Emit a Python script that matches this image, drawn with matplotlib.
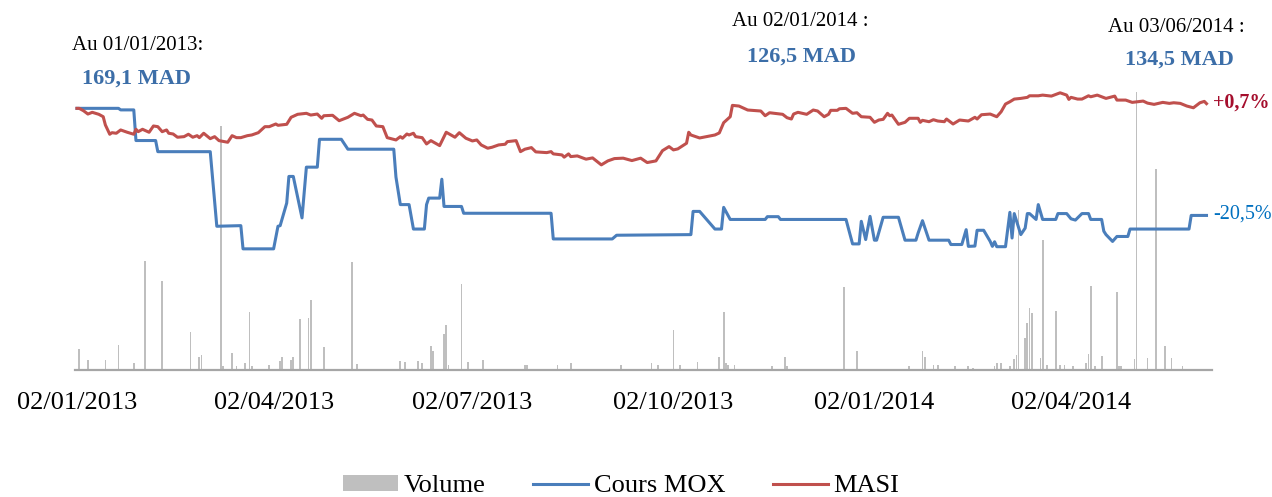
import matplotlib
matplotlib.use("Agg")
import matplotlib.pyplot as plt
import matplotlib.dates as mdates
import pandas as pd

plt.rcParams["font.family"] = ["Liberation Serif", "DejaVu Serif"]

# Cours MOX (MAD)
mox_dates = ["2013-01-02", "2013-01-21", "2013-01-22", "2013-01-28", "2013-01-29", "2013-02-07",
             "2013-02-08", "2013-03-04", "2013-03-07", "2013-03-18", "2013-03-19", "2013-04-02",
             "2013-04-04", "2013-04-05", "2013-04-08", "2013-04-09", "2013-04-11", "2013-04-15",
             "2013-04-17", "2013-04-22", "2013-04-23", "2013-05-03", "2013-05-06", "2013-05-27",
             "2013-05-28", "2013-05-30", "2013-06-03", "2013-06-05", "2013-06-10", "2013-06-11",
             "2013-06-12", "2013-06-17", "2013-06-18", "2013-06-19", "2013-06-27", "2013-06-28",
             "2013-08-07", "2013-08-08", "2013-09-04", "2013-09-06", "2013-10-10", "2013-10-11",
             "2013-10-14", "2013-10-21", "2013-10-24", "2013-10-25", "2013-10-28", "2013-11-13",
             "2013-11-14", "2013-11-19", "2013-11-20", "2013-12-20", "2013-12-23", "2013-12-26",
             "2013-12-27", "2013-12-29", "2013-12-31", "2014-01-02", "2014-01-03", "2014-01-06",
             "2014-01-13", "2014-01-16", "2014-01-21", "2014-01-22", "2014-01-24", "2014-01-27",
             "2014-02-05", "2014-02-06", "2014-02-11", "2014-02-13", "2014-02-14", "2014-02-17",
             "2014-02-18", "2014-02-21", "2014-02-24", "2014-02-25", "2014-02-26", "2014-02-27",
             "2014-03-03", "2014-03-05", "2014-03-06", "2014-03-07", "2014-03-10", "2014-03-12",
             "2014-03-13", "2014-03-14", "2014-03-17", "2014-03-18", "2014-03-20", "2014-03-26",
             "2014-03-27", "2014-03-31", "2014-04-02", "2014-04-04", "2014-04-07", "2014-04-10",
             "2014-04-11", "2014-04-16", "2014-04-17", "2014-04-18", "2014-04-21", "2014-04-23",
             "2014-04-28", "2014-04-29", "2014-05-26", "2014-05-27", "2014-06-03"]
mox_prices = [169.1, 169.1, 168.6, 168.6, 158.7, 158.7,
              155.1, 155.1, 131.0, 131.2, 123.7, 123.7,
              131.0, 131.2, 138.5, 147.1, 147.1, 133.7,
              150.1, 150.1, 159.1, 159.1, 155.9, 155.9,
              146.9, 138.0, 138.0, 130.1, 130.1, 138.0,
              140.1, 140.1, 146.2, 137.4, 137.4, 135.2,
              135.2, 126.9, 126.9, 128.1, 128.3, 135.8,
              135.8, 130.1, 130.1, 137.1, 133.2, 133.2,
              134.1, 134.1, 133.2, 133.2, 125.3, 125.3,
              132.6, 126.7, 134.2, 126.5, 126.5, 133.9,
              133.9, 126.5, 126.5, 128.8, 132.8, 126.5,
              126.5, 125.1, 125.1, 129.9, 124.5, 124.6,
              129.7, 129.7, 126.1, 124.5, 126.0, 124.4,
              124.4, 135.5, 127.2, 135.1, 128.3, 130.4,
              135.1, 135.1, 133.2, 138.0, 133.2, 133.2,
              135.1, 135.1, 133.4, 133.0, 135.1, 135.1,
              133.2, 133.2, 129.4, 128.3, 126.1, 127.7,
              127.7, 130.1, 130.1, 134.5, 134.5]

# MASI (base 100 au 02/01/2013)
masi_dates = ["2013-01-02", "2013-01-03", "2013-01-05", "2013-01-07", "2013-01-09", "2013-01-12",
              "2013-01-14", "2013-01-15", "2013-01-17", "2013-01-18", "2013-01-20", "2013-01-22",
              "2013-01-25", "2013-01-28", "2013-01-29", "2013-01-30", "2013-02-01", "2013-02-04",
              "2013-02-06", "2013-02-08", "2013-02-10", "2013-02-12", "2013-02-13", "2013-02-15",
              "2013-02-17", "2013-02-20", "2013-02-22", "2013-02-24", "2013-02-26", "2013-02-27",
              "2013-03-01", "2013-03-04", "2013-03-06", "2013-03-08", "2013-03-12", "2013-03-14",
              "2013-03-16", "2013-03-18", "2013-03-21", "2013-03-23", "2013-03-26", "2013-03-29",
              "2013-03-31", "2013-04-03", "2013-04-04", "2013-04-08", "2013-04-10", "2013-04-13",
              "2013-04-17", "2013-04-19", "2013-04-22", "2013-04-24", "2013-04-25", "2013-04-29",
              "2013-05-02", "2013-05-06", "2013-05-09", "2013-05-12", "2013-05-13", "2013-05-15",
              "2013-05-17", "2013-05-19", "2013-05-22", "2013-05-24", "2013-05-28", "2013-05-30",
              "2013-05-31", "2013-06-02", "2013-06-03", "2013-06-05", "2013-06-06", "2013-06-09",
              "2013-06-11", "2013-06-13", "2013-06-17", "2013-06-20", "2013-06-24", "2013-06-26",
              "2013-06-29", "2013-07-02", "2013-07-04", "2013-07-06", "2013-07-09", "2013-07-11",
              "2013-07-14", "2013-07-17", "2013-07-18", "2013-07-22", "2013-07-24", "2013-07-26",
              "2013-07-29", "2013-07-31", "2013-08-05", "2013-08-07", "2013-08-08", "2013-08-12",
              "2013-08-13", "2013-08-15", "2013-08-16", "2013-08-19", "2013-08-23", "2013-08-26",
              "2013-08-30", "2013-09-02", "2013-09-05", "2013-09-09", "2013-09-13", "2013-09-17",
              "2013-09-20", "2013-09-24", "2013-09-27", "2013-09-30", "2013-10-02", "2013-10-04",
              "2013-10-08", "2013-10-09", "2013-10-10", "2013-10-14", "2013-10-21", "2013-10-23",
              "2013-10-25", "2013-10-28", "2013-10-29", "2013-11-01", "2013-11-05", "2013-11-11",
              "2013-11-13", "2013-11-15", "2013-11-21", "2013-11-23", "2013-11-25", "2013-11-26",
              "2013-11-28", "2013-12-02", "2013-12-05", "2013-12-07", "2013-12-10", "2013-12-12",
              "2013-12-13", "2013-12-16", "2013-12-17", "2013-12-20", "2013-12-23", "2013-12-25",
              "2013-12-27", "2013-12-31", "2014-01-02", "2014-01-04", "2014-01-06", "2014-01-08",
              "2014-01-09", "2014-01-10", "2014-01-13", "2014-01-16", "2014-01-18", "2014-01-22",
              "2014-01-23", "2014-01-24", "2014-01-27", "2014-01-29", "2014-01-31", "2014-02-03",
              "2014-02-04", "2014-02-07", "2014-02-10", "2014-02-14", "2014-02-17", "2014-02-18",
              "2014-02-20", "2014-02-24", "2014-02-27", "2014-03-01", "2014-03-03", "2014-03-05",
              "2014-03-07", "2014-03-10", "2014-03-13", "2014-03-14", "2014-03-18", "2014-03-20",
              "2014-03-24", "2014-03-28", "2014-03-31", "2014-04-01", "2014-04-02", "2014-04-05",
              "2014-04-07", "2014-04-10", "2014-04-11", "2014-04-14", "2014-04-18", "2014-04-22",
              "2014-04-23", "2014-04-27", "2014-04-30", "2014-05-05", "2014-05-07", "2014-05-10",
              "2014-05-14", "2014-05-17", "2014-05-19", "2014-05-22", "2014-05-25", "2014-05-28",
              "2014-05-31", "2014-06-02", "2014-06-03"]
masi_values = [100.0, 100.0, 99.54, 98.91, 99.24, 98.86,
               98.40, 96.82, 95.05, 95.35, 95.24, 95.87,
               95.43, 95.05, 96.00, 95.54, 96.00, 95.43,
               96.63, 96.50, 95.54, 95.87, 95.24, 95.10,
               94.48, 94.59, 95.05, 94.48, 94.78, 94.40,
               95.24, 94.21, 94.59, 93.83, 93.52, 94.78,
               94.40, 94.40, 94.78, 94.91, 95.35, 96.50,
               96.50, 97.01, 96.76, 96.95, 98.29, 98.86,
               99.05, 98.72, 98.91, 98.10, 98.59, 98.67,
               97.64, 98.29, 99.05, 98.59, 98.72, 97.90,
               97.77, 96.63, 96.50, 94.40, 93.96, 94.59,
               94.29, 95.10, 94.91, 95.24, 94.59, 94.40,
               93.20, 93.83, 92.88, 95.43, 94.48, 95.35,
               94.29, 93.77, 93.96, 93.01, 92.38, 92.57,
               93.01, 93.14, 93.64, 93.83, 91.73, 92.19,
               92.50, 91.68, 91.54, 91.73, 91.30, 91.10,
               90.67, 91.30, 90.78, 90.91, 90.29, 90.53,
               89.20, 89.96, 90.40, 90.48, 90.02, 90.48,
               89.64, 89.96, 91.92, 92.69, 92.06, 92.25,
               93.33, 95.43, 94.91, 94.34, 94.91, 95.30,
               97.26, 98.40, 100.57, 100.44, 99.68, 99.49,
               98.59, 99.16, 98.86, 98.21, 97.96, 98.91,
               99.24, 98.86, 99.68, 99.49, 98.40, 98.86,
               99.62, 99.62, 99.92, 100.00, 99.05, 99.16,
               98.40, 98.29, 97.33, 97.77, 97.90, 99.05,
               98.59, 98.72, 96.95, 97.33, 98.10, 98.10,
               97.33, 97.71, 97.45, 97.83, 97.58, 97.45,
               97.96, 97.01, 97.77, 97.58, 98.29, 97.96,
               98.78, 98.91, 98.40, 99.35, 100.82, 101.26,
               101.77, 101.90, 102.10, 102.40, 102.40, 102.53,
               102.34, 102.97, 102.53, 101.71, 102.10, 101.77,
               101.77, 102.40, 102.21, 102.53, 101.90, 102.34,
               101.58, 101.58, 101.14, 101.39, 101.00, 100.76,
               101.14, 100.95, 101.07, 100.95, 100.44, 100.11,
               101.07, 101.33, 100.90]

# Volume (titres échangés)
vol_dates = ["2013-01-03", "2013-01-07", "2013-01-15", "2013-01-21", "2013-01-28", "2013-02-02",
             "2013-02-10", "2013-02-23", "2013-02-27", "2013-02-28", "2013-03-09", "2013-03-10",
             "2013-03-14", "2013-03-16", "2013-03-20", "2013-03-22", "2013-03-23", "2013-03-31",
             "2013-04-05", "2013-04-06", "2013-04-10", "2013-04-11", "2013-04-14", "2013-04-18",
             "2013-04-19", "2013-04-25", "2013-05-08", "2013-05-10", "2013-05-30", "2013-06-01",
             "2013-06-07", "2013-06-09", "2013-06-13", "2013-06-14", "2013-06-19", "2013-06-20",
             "2013-06-21", "2013-06-27", "2013-06-30", "2013-07-07", "2013-07-26", "2013-07-27",
             "2013-08-10", "2013-08-16", "2013-09-08", "2013-09-22", "2013-09-25", "2013-10-02",
             "2013-10-05", "2013-10-13", "2013-10-23", "2013-10-25", "2013-10-26", "2013-10-27",
             "2013-10-30", "2013-11-16", "2013-11-22", "2013-11-23", "2013-12-19", "2013-12-25",
             "2013-12-29", "2014-01-03", "2014-01-08", "2014-01-18", "2014-01-24", "2014-01-25",
             "2014-01-29", "2014-01-31", "2014-02-08", "2014-02-14", "2014-02-16", "2014-02-26",
             "2014-02-27", "2014-03-01", "2014-03-05", "2014-03-07", "2014-03-08", "2014-03-09",
             "2014-03-12", "2014-03-13", "2014-03-14", "2014-03-15", "2014-03-19", "2014-03-20",
             "2014-03-22", "2014-03-26", "2014-03-28", "2014-03-30", "2014-04-03", "2014-04-09",
             "2014-04-10", "2014-04-11", "2014-04-13", "2014-04-16", "2014-04-23", "2014-04-24",
             "2014-04-25", "2014-05-01", "2014-05-02", "2014-05-07", "2014-05-11", "2014-05-15",
             "2014-05-18", "2014-05-23", "2014-05-29"]
vol_values = [2070, 1000, 1000, 2470, 670, 10900,
              8900, 3800, 1330, 1500, 24400, 400,
              1670, 400, 670, 5800, 400, 470,
              900, 1300, 1000, 1300, 5100, 5230,
              7000, 2330, 10800, 600, 870, 800,
              930, 730, 2400, 1930, 3600, 4500,
              470, 8630, 800, 970, 470, 530,
              500, 730, 500, 730, 470, 4000,
              500, 770, 1330, 5830, 730, 500,
              500, 370, 1330, 400, 8300, 1900,
              130, 130, 130, 400, 1900, 1330,
              500, 500, 400, 400, 200, 430,
              670, 670, 400, 1130, 1500, 16000,
              3170, 4670, 6230, 5670, 1170, 13000,
              500, 5900, 500, 500, 370, 730,
              1600, 8400, 400, 1400, 7830, 400,
              400, 1070, 27800, 1170, 20100, 2400,
              1170, 430, 130]

mox = pd.Series(mox_prices, index=pd.to_datetime(mox_dates))
mox_base = mox / mox.iloc[0] * 100
masi = pd.Series(masi_values, index=pd.to_datetime(masi_dates))
vol = pd.Series(vol_values, index=pd.to_datetime(vol_dates))

blue = "#4A7EBB"
red = "#C0504D"

fig = plt.figure(figsize=(12.72, 4.97), dpi=100)
ax = fig.add_axes([0.0588, 0.2555, 0.894, 0.6318])
ax2 = ax.twinx()

ax.bar(vol.index, vol.values, width=0.8, color="#BFBFBF", label="Volume")
ax.set_ylim(0, 31400)

ax2.plot(mox_base.index, mox_base.values, color=blue, lw=2.2, label="Cours MOX")
ax2.plot(masi.index, masi.values, color=red, lw=2.2, label="MASI")
ax2.set_ylim(50, 110)

ax.set_xlim(pd.Timestamp("2013-01-01"), pd.Timestamp("2014-06-05 12:00"))
ticks = pd.to_datetime(["2013-01-02", "2013-04-02", "2013-07-02", "2013-10-02",
                        "2014-01-02", "2014-04-02"])
ax.set_xticks(ticks)
ax.xaxis.set_major_formatter(mdates.DateFormatter("%d/%m/%Y"))
ax.tick_params(axis="x", length=0, pad=16, labelsize=19)
ax.set_yticks([])
ax2.set_yticks([])
for a in (ax, ax2):
    for s in ("top", "right", "left", "bottom"):
        a.spines[s].set_visible(False)
ax.spines["bottom"].set_visible(True)
ax.spines["bottom"].set_color("#A6A6A6")
ax.spines["bottom"].set_linewidth(1.6)

# annotations
W, H = 1272, 497
def ftext(x, y, s, **kw):
    fig.text(x / W, 1 - y / H, s, ha="center", va="center", **kw)

ftext(138, 45, "Au 01/01/2013:", fontsize=15)
ftext(136, 79, "169,1 MAD", fontsize=16, fontweight="bold", color="#3C6EA8")
ftext(800, 22, "Au 02/01/2014 :", fontsize=15)
ftext(801, 57, "126,5 MAD", fontsize=16, fontweight="bold", color="#3C6EA8")
ftext(1176, 27, "Au 03/06/2014 :", fontsize=15)
ftext(1179, 60, "134,5 MAD", fontsize=16, fontweight="bold", color="#3C6EA8")

fig.text(1213 / W, 1 - 103 / H, "+0,7%", ha="left", va="center", fontsize=14.5,
         fontweight="bold", color="#A50E2D")
fig.text(1213 / W, 1 - 214 / H, "-20,5%", ha="left", va="center", fontsize=14.5,
         color="#0070C0")

h1, l1 = ax.get_legend_handles_labels()
h2, l2 = ax2.get_legend_handles_labels()
fig.legend(h1 + h2, l1 + l2, loc="center", bbox_to_anchor=(621 / W, 11 / H), ncol=3,
           frameon=False, fontsize=19, handlelength=2.1, handleheight=0.55,
           handletextpad=0.2, columnspacing=1.8)

fig.savefig("out.png", dpi=100)
